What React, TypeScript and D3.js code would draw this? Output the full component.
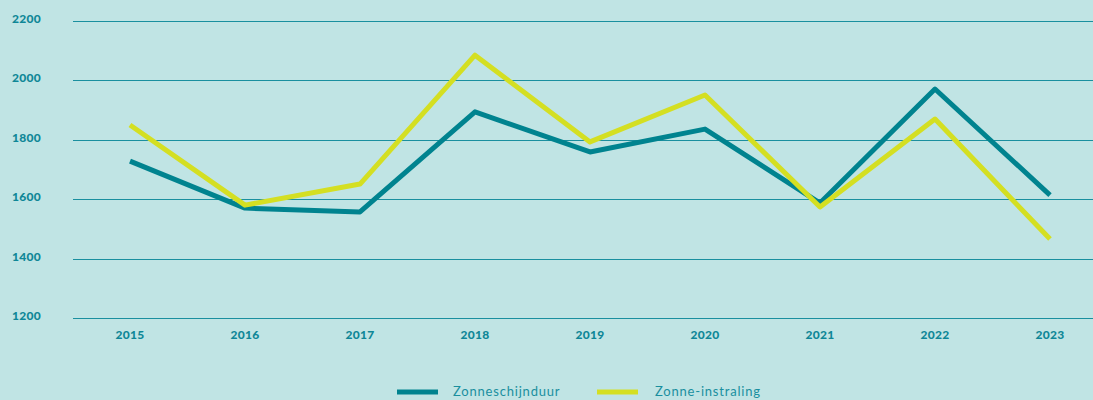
import React from "react";
import * as d3 from "d3";

const years = ["2015", "2016", "2017", "2018", "2019", "2020", "2021", "2022", "2023"];
const zonneschijnduur = [1728, 1570, 1557, 1894, 1759, 1836, 1587, 1971, 1614];
const zonneInstraling = [1850, 1580, 1651, 2085, 1793, 1951, 1574, 1870, 1466];
const yTicks = [1200, 1400, 1600, 1800, 2000, 2200];
const seriesNames = ["Zonneschijnduur", "Zonne-instraling"];
const colors = ["#00838f", "#d4df22"];

const W = 1093;
const H = 400;

export default function App() {
  const x = d3.scalePoint<string>().domain(years).range([130, 1050]);
  const y = d3.scaleLinear().domain([1200, 2200]).range([318, 21]);
  const line = d3
    .line<number>()
    .x((_, i) => x(years[i]) as number)
    .y((d) => y(d));
  const font = "Lato, 'Open Sans', sans-serif";
  const tickColor = "#0f8797";
  return (
    <svg
      width={W}
      height={H}
      style={{ position: "absolute", left: 0, top: 0, display: "block" }}
    >
      <rect x={0} y={0} width={W} height={H} fill="#c0e4e4" />
      {yTicks.map((t) => (
        <g key={t}>
          <line
            x1={73}
            x2={W}
            y1={Math.round(y(t)) + 0.5}
            y2={Math.round(y(t)) + 0.5}
            stroke="#1a8f9f"
            strokeWidth={1}
          />
          <text
            x={12}
            y={y(t) - 1}
            fontFamily={font}
            fontWeight={900}
            fontSize={12}
            letterSpacing={0.3}
            fill={tickColor}
            dominantBaseline="middle"
          >
            {t}
          </text>
        </g>
      ))}
      {years.map((yr) => (
        <text
          key={yr}
          x={x(yr)}
          y={339}
          textAnchor="middle"
          fontFamily={font}
          fontWeight={900}
          fontSize={12}
          letterSpacing={0.3}
          fill={tickColor}
        >
          {yr}
        </text>
      ))}
      {[zonneschijnduur, zonneInstraling].map((s, i) => (
        <path
          key={i}
          d={line(s) || ""}
          fill="none"
          stroke={colors[i]}
          strokeWidth={5}
          strokeLinejoin="round"
          strokeLinecap="butt"
        />
      ))}
      {seriesNames.map((n, i) => {
        const lx = i === 0 ? 397 : 597;
        const tx = i === 0 ? 453 : 655;
        return (
          <g key={n}>
            <line x1={lx} x2={lx + 41} y1={392} y2={392} stroke={colors[i]} strokeWidth={5} />
            <text
              x={tx}
              y={396}
              fontFamily={font}
              fontSize={13}
              letterSpacing={0.8}
              fill="#1a8f9f"
            >
              {n}
            </text>
          </g>
        );
      })}
    </svg>
  );
}
